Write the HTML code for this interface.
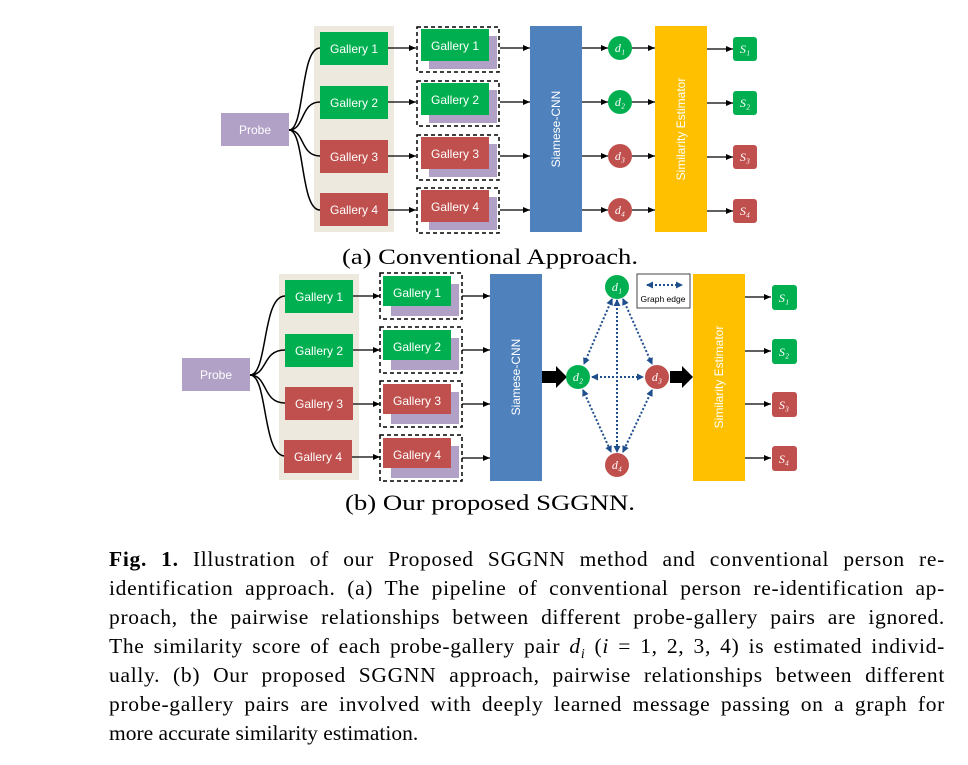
<!DOCTYPE html>
<html><head><meta charset="utf-8"><style>
html,body{margin:0;padding:0;background:#fff;}
svg{display:block;position:absolute;left:0;top:0;}
.g{font-family:"Liberation Sans",sans-serif;font-size:12px;fill:#fff;text-anchor:middle;}
.m{font-family:"Liberation Serif",serif;font-style:italic;font-size:12px;fill:#fff;text-anchor:middle;}
.c{font-family:"Liberation Serif",serif;font-size:22px;fill:#000;}
#cap{position:absolute;left:109px;top:545px;width:836px;font-family:"Liberation Serif",serif;font-size:21.5px;line-height:29px;color:#000;}
#cap div{height:29px;text-align:justify;text-align-last:justify;white-space:nowrap;letter-spacing:0.7px;}
#cap div.l{text-align-last:left;letter-spacing:0;}
.sb{font-size:14px;position:relative;top:5px;line-height:0;}
</style></head><body>
<svg width="968" height="765" viewBox="0 0 968 765" xmlns="http://www.w3.org/2000/svg">
<defs>
<marker id="a" markerWidth="8" markerHeight="8" refX="7" refY="4" orient="auto" markerUnits="userSpaceOnUse"><path d="M0,1 L7,4 L0,7 z" fill="#000"/></marker>
<marker id="b" markerWidth="8" markerHeight="8" refX="6" refY="4" orient="auto-start-reverse" markerUnits="userSpaceOnUse"><path d="M0,0.5 L7,4 L0,7.5 z" fill="#1f4e8c"/></marker>
</defs>

<rect x="314" y="26" width="80" height="206" fill="#ede9df"/>
<rect x="221" y="113" width="68" height="33" fill="#b1a1c7"/>
<text class="g" x="255" y="134">Probe</text>
<g fill="none" stroke="#000" stroke-width="1.5">
<path d="M289,130 C305,130 300,48 320,48"/>
<path d="M289,130 C305,130 300,102 320,102"/>
<path d="M289,130 C305,130 300,156 320,156"/>
<path d="M289,130 C305,130 300,210 320,210"/>
</g>
<rect x="320" y="32" width="68" height="33" fill="#00b050"/><text class="g" x="354" y="53">Gallery 1</text>
<rect x="320" y="86" width="68" height="33" fill="#00b050"/><text class="g" x="354" y="107">Gallery 2</text>
<rect x="320" y="140" width="68" height="33" fill="#c0504d"/><text class="g" x="354" y="161">Gallery 3</text>
<rect x="320" y="193" width="68" height="33" fill="#c0504d"/><text class="g" x="354" y="214">Gallery 4</text>
<g stroke="#000" stroke-width="1.3" marker-end="url(#a)">
<line x1="388" y1="48" x2="416" y2="48"/><line x1="388" y1="102" x2="416" y2="102"/>
<line x1="388" y1="156" x2="416" y2="156"/><line x1="388" y1="210" x2="416" y2="210"/>
<line x1="500" y1="48" x2="530" y2="48"/><line x1="500" y1="102" x2="530" y2="102"/>
<line x1="500" y1="156" x2="530" y2="156"/><line x1="500" y1="210" x2="530" y2="210"/>
</g>
<rect x="417" y="27" width="82" height="45" fill="none" stroke="#000" stroke-width="1.5" stroke-dasharray="4,3"/>
<rect x="429" y="36" width="68" height="33" fill="#b1a1c7"/><rect x="421" y="29" width="68" height="32" fill="#00b050"/><text class="g" x="455" y="50">Gallery 1</text>
<rect x="417" y="81" width="82" height="45" fill="none" stroke="#000" stroke-width="1.5" stroke-dasharray="4,3"/>
<rect x="429" y="90" width="68" height="33" fill="#b1a1c7"/><rect x="421" y="83" width="68" height="32" fill="#00b050"/><text class="g" x="455" y="104">Gallery 2</text>
<rect x="417" y="135" width="82" height="45" fill="none" stroke="#000" stroke-width="1.5" stroke-dasharray="4,3"/>
<rect x="429" y="144" width="68" height="33" fill="#b1a1c7"/><rect x="421" y="137" width="68" height="32" fill="#c0504d"/><text class="g" x="455" y="158">Gallery 3</text>
<rect x="417" y="188" width="82" height="45" fill="none" stroke="#000" stroke-width="1.5" stroke-dasharray="4,3"/>
<rect x="429" y="197" width="68" height="33" fill="#b1a1c7"/><rect x="421" y="190" width="68" height="32" fill="#c0504d"/><text class="g" x="455" y="211">Gallery 4</text>
<rect x="530" y="26" width="52" height="206" fill="#4f81bd"/>
<text class="g" transform="translate(560,129) rotate(-90)">Siamese-CNN</text>
<g stroke="#000" stroke-width="1.3" marker-end="url(#a)">
<line x1="582" y1="48" x2="608" y2="48"/><line x1="582" y1="102" x2="608" y2="102"/>
<line x1="582" y1="156" x2="608" y2="156"/><line x1="582" y1="210" x2="608" y2="210"/>
<line x1="632" y1="48" x2="655" y2="48"/><line x1="632" y1="102" x2="655" y2="102"/>
<line x1="632" y1="156" x2="655" y2="156"/><line x1="632" y1="210" x2="655" y2="210"/>
<line x1="707" y1="49" x2="733" y2="49"/><line x1="707" y1="103" x2="733" y2="103"/>
<line x1="707" y1="157" x2="733" y2="157"/><line x1="707" y1="211" x2="733" y2="211"/>
</g>
<circle cx="620" cy="48" r="12" fill="#00b050"/><text class="m" x="620" y="52">d₁</text>
<circle cx="620" cy="102" r="12" fill="#00b050"/><text class="m" x="620" y="106">d₂</text>
<circle cx="620" cy="156" r="12" fill="#c0504d"/><text class="m" x="620" y="160">d₃</text>
<circle cx="620" cy="210" r="12" fill="#c0504d"/><text class="m" x="620" y="214">d₄</text>
<rect x="655" y="26" width="52" height="206" fill="#ffc000"/>
<text class="g" transform="translate(685,129) rotate(-90)">Similarity Estimator</text>
<rect x="733" y="37" width="24" height="24" rx="3" fill="#00b050"/><text class="m" x="745" y="53">S₁</text>
<rect x="733" y="91" width="24" height="24" rx="3" fill="#00b050"/><text class="m" x="745" y="107">S₂</text>
<rect x="733" y="145" width="24" height="24" rx="3" fill="#c0504d"/><text class="m" x="745" y="161">S₃</text>
<rect x="733" y="199" width="24" height="24" rx="3" fill="#c0504d"/><text class="m" x="745" y="215">S₄</text>
<text class="c" x="342" y="264" textLength="296" lengthAdjust="spacingAndGlyphs">(a) Conventional Approach.</text>

<rect x="279" y="274" width="80" height="206" fill="#ede9df"/>
<rect x="182" y="358" width="68" height="33" fill="#b1a1c7"/>
<text class="g" x="216" y="379">Probe</text>
<g fill="none" stroke="#000" stroke-width="1.5">
<path d="M250,375 C268,375 262,296 285,296"/>
<path d="M250,375 C268,375 262,350 285,350"/>
<path d="M250,375 C268,375 262,403 285,403"/>
<path d="M250,375 C268,375 262,456 285,456"/>
</g>
<rect x="285" y="280" width="68" height="33" fill="#00b050"/><text class="g" x="319" y="301">Gallery 1</text>
<rect x="285" y="334" width="68" height="33" fill="#00b050"/><text class="g" x="319" y="355">Gallery 2</text>
<rect x="285" y="387" width="68" height="33" fill="#c0504d"/><text class="g" x="319" y="408">Gallery 3</text>
<rect x="284" y="440" width="68" height="33" fill="#c0504d"/><text class="g" x="318" y="461">Gallery 4</text>
<g stroke="#000" stroke-width="1.3" marker-end="url(#a)">
<line x1="353" y1="296" x2="380" y2="296"/><line x1="353" y1="350" x2="380" y2="350"/>
<line x1="353" y1="404" x2="380" y2="404"/><line x1="352" y1="457" x2="380" y2="457"/>
<line x1="462" y1="296" x2="490" y2="296"/><line x1="462" y1="350" x2="490" y2="350"/>
<line x1="462" y1="404" x2="490" y2="404"/><line x1="462" y1="458" x2="490" y2="458"/>
</g>
<rect x="380" y="273" width="82" height="46" fill="none" stroke="#000" stroke-width="1.5" stroke-dasharray="4,3"/>
<rect x="391" y="284" width="68" height="32" fill="#b1a1c7"/><rect x="383" y="276" width="68" height="30" fill="#00b050"/><text class="g" x="417" y="297">Gallery 1</text>
<rect x="380" y="327" width="82" height="46" fill="none" stroke="#000" stroke-width="1.5" stroke-dasharray="4,3"/>
<rect x="391" y="338" width="68" height="32" fill="#b1a1c7"/><rect x="383" y="330" width="68" height="30" fill="#00b050"/><text class="g" x="417" y="351">Gallery 2</text>
<rect x="380" y="381" width="82" height="46" fill="none" stroke="#000" stroke-width="1.5" stroke-dasharray="4,3"/>
<rect x="391" y="392" width="68" height="32" fill="#b1a1c7"/><rect x="383" y="384" width="68" height="30" fill="#c0504d"/><text class="g" x="417" y="405">Gallery 3</text>
<rect x="380" y="435" width="82" height="46" fill="none" stroke="#000" stroke-width="1.5" stroke-dasharray="4,3"/>
<rect x="391" y="446" width="68" height="32" fill="#b1a1c7"/><rect x="383" y="438" width="68" height="30" fill="#c0504d"/><text class="g" x="417" y="459">Gallery 4</text>
<rect x="490" y="274" width="52" height="207" fill="#4f81bd"/>
<text class="g" transform="translate(520,377) rotate(-90)">Siamese-CNN</text>
<path d="M542,371 L556,371 L556,366 L567,377 L556,388 L556,383 L542,383 z" fill="#000"/>
<path d="M670,371 L682,371 L682,366 L693,377 L682,388 L682,383 L670,383 z" fill="#000"/>
<g stroke="#1f4e8c" stroke-width="2" stroke-dasharray="2,2" marker-start="url(#b)" marker-end="url(#b)" fill="none">
<line x1="612" y1="299" x2="584" y2="364"/>
<line x1="623" y1="299" x2="652" y2="364"/>
<line x1="617" y1="300" x2="617" y2="452"/>
<line x1="592" y1="377" x2="643" y2="377"/>
<line x1="583" y1="390" x2="611" y2="452"/>
<line x1="652" y1="390" x2="623" y2="452"/>
</g>
<circle cx="617" cy="287" r="12" fill="#00b050"/><text class="m" x="617" y="291">d₁</text>
<circle cx="578" cy="377" r="12" fill="#00b050"/><text class="m" x="578" y="381">d₂</text>
<circle cx="657" cy="377" r="12" fill="#c0504d"/><text class="m" x="657" y="381">d₃</text>
<circle cx="617" cy="465" r="12" fill="#c0504d"/><text class="m" x="617" y="469">d₄</text>
<rect x="637" y="274" width="53" height="34" fill="#fff" stroke="#444" stroke-width="1"/>
<line x1="647" y1="285" x2="682" y2="285" stroke="#1f4e8c" stroke-width="2" stroke-dasharray="2,2" marker-start="url(#b)" marker-end="url(#b)"/>
<text x="663" y="302" font-family="Liberation Sans,sans-serif" font-size="8.5" fill="#000" text-anchor="middle">Graph edge</text>
<rect x="693" y="274" width="52" height="207" fill="#ffc000"/>
<text class="g" transform="translate(723,377) rotate(-90)">Similarity Estimator</text>
<g stroke="#000" stroke-width="1.3" marker-end="url(#a)">
<line x1="745" y1="297" x2="771" y2="297"/><line x1="745" y1="351" x2="771" y2="351"/>
<line x1="745" y1="404" x2="771" y2="404"/><line x1="745" y1="458" x2="771" y2="458"/>
</g>
<rect x="772" y="285" width="25" height="25" rx="3" fill="#00b050"/><text class="m" x="784" y="302">S₁</text>
<rect x="772" y="339" width="25" height="25" rx="3" fill="#00b050"/><text class="m" x="784" y="356">S₂</text>
<rect x="772" y="392" width="25" height="25" rx="3" fill="#c0504d"/><text class="m" x="784" y="409">S₃</text>
<rect x="772" y="446" width="25" height="25" rx="3" fill="#c0504d"/><text class="m" x="784" y="463">S₄</text>
<text class="c" x="345" y="510" textLength="290" lengthAdjust="spacingAndGlyphs">(b) Our proposed SGGNN.</text>
</svg>
<div id="cap">
<div><b>Fig. 1.</b> Illustration of our Proposed SGGNN method and conventional person re-</div>
<div>identification approach. (a) The pipeline of conventional person re-identification ap-</div>
<div>proach, the pairwise relationships between different probe-gallery pairs are ignored.</div>
<div>The similarity score of each probe-gallery pair <i>d<span class="sb">i</span></i> (<i>i</i> = 1, 2, 3, 4) is estimated individ-</div>
<div>ually. (b) Our proposed SGGNN approach, pairwise relationships between different</div>
<div>probe-gallery pairs are involved with deeply learned message passing on a graph for</div>
<div class="l">more accurate similarity estimation.</div>
</div>
</body></html>
